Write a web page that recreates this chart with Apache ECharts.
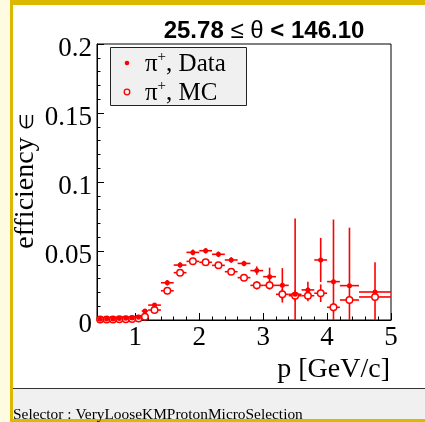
<!DOCTYPE html>
<html>
<head>
<meta charset="utf-8">
<script src="https://cdn.jsdelivr.net/npm/echarts@6/dist/echarts.min.js"></script>
<style>
  html, body { margin: 0; padding: 0; background: #ffffff; }
  #chart { width: 425px; height: 422px; }
</style>
</head>
<body>
<div id="chart"></div>
<script>
// Bin centres and half-widths in p [GeV/c]
const pCenter = [0.45, 0.55, 0.65, 0.75, 0.85, 0.95, 1.05, 1.15, 1.3, 1.5, 1.7, 1.9, 2.1, 2.3, 2.5, 2.7, 2.9, 3.1, 3.3, 3.5, 3.7, 3.9, 4.1, 4.35, 4.75];
const pHalfWidth = [0.05, 0.05, 0.05, 0.05, 0.05, 0.05, 0.05, 0.05, 0.1, 0.1, 0.1, 0.1, 0.1, 0.1, 0.1, 0.1, 0.1, 0.1, 0.1, 0.1, 0.1, 0.1, 0.1, 0.15, 0.25];

// pi+ efficiency, data
const effData = [0.0005, 0.0008, 0.0008, 0.001, 0.0012, 0.0015, 0.002, 0.0065, 0.0108, 0.027, 0.0398, 0.049, 0.0502, 0.0476, 0.0435, 0.041, 0.0358, 0.0314, 0.0251, 0.0186, 0.0218, 0.0435, 0.0278, 0.0249, 0.0203];
const errData = [0.0003, 0.0003, 0.0003, 0.0003, 0.0003, 0.0004, 0.0005, 0.001, 0.0015, 0.002, 0.002, 0.002, 0.002, 0.002, 0.002, 0.002, 0.003, 0.0065, 0.0125, 0.055, 0.006, 0.016, 0.045, 0.042, 0.0215];

// pi+ efficiency, MC
const effMC = [0.0003, 0.0004, 0.0004, 0.0005, 0.0006, 0.0008, 0.001, 0.0024, 0.0072, 0.0212, 0.0343, 0.0425, 0.0418, 0.0396, 0.035, 0.0307, 0.0251, 0.0251, 0.0186, 0.0176, 0.0176, 0.0194, 0.0092, 0.0145, 0.0167];
const errMC = [0.0002, 0.0002, 0.0002, 0.0002, 0.0002, 0.0003, 0.0003, 0.0006, 0.001, 0.0015, 0.0015, 0.0015, 0.0015, 0.0015, 0.0015, 0.0015, 0.003, 0.003, 0.004, 0.004, 0.004, 0.0064, 0.003, 0.003, 0.003];

// Axis ticks
const xMajorTicks = [1, 2, 3, 4, 5];
const yTickLabels = ['0', '0.05', '0.1', '0.15', '0.2'];

const RED = '#ff0000';
const SERIF = '"Liberation Serif", "Times New Roman", serif';
const SANS = '"Liberation Sans", Arial, sans-serif';

function rows(eff, err) {
  return pCenter.map((p, i) => [p, eff[i], pHalfWidth[i], err[i]]);
}

function errorBars(params, api) {
  const x = api.value(0), y = api.value(1), dx = api.value(2), dy = api.value(3);
  const lo = Math.max(0, y - dy), hi = y + dy;
  const l = api.coord([x - dx, y]), r = api.coord([x + dx, y]);
  const b = api.coord([x, lo]), t = api.coord([x, hi]);
  const st = { stroke: RED, lineWidth: 1.6 };
  return {
    type: 'group',
    children: [
      { type: 'line', shape: { x1: l[0], y1: l[1], x2: r[0], y2: r[1] }, style: st },
      { type: 'line', shape: { x1: b[0], y1: b[1], x2: t[0], y2: t[1] }, style: st }
    ]
  };
}

const chart = echarts.init(document.getElementById('chart'), null, { renderer: 'canvas' });

chart.setOption({
  animation: false,
  backgroundColor: '#ffffff',
  title: {
    text: '{b|25.78 }{s|≤ θ}{b| < 146.10}',
    left: 259, top: 14, textAlign: 'center',
    textStyle: {
      rich: {
        b: { fontFamily: SANS, fontWeight: 'bold', fontSize: 24, color: '#000' },
        s: { fontFamily: SANS, fontWeight: 'normal', fontSize: 24, color: '#000' }
      }
    }
  },
  grid: { left: 97, top: 44, right: 34, bottom: 102, show: true, borderColor: '#000', borderWidth: 1, backgroundColor: 'transparent', outerBoundsMode: 'none' },
  xAxis: [
    {
      type: 'value', min: 0.4, max: 5,
      axisLine: { show: true, lineStyle: { color: '#000', width: 1 } },
      axisTick: { show: true, inside: true, length: 7, customValues: xMajorTicks, lineStyle: { color: '#000' } },
      axisLabel: { show: true, customValues: xMajorTicks, margin: 4, fontFamily: SERIF, fontSize: 27, color: '#000' },
      splitLine: { show: false }
    },
    {
      type: 'value', min: 0.4, max: 5, interval: 0.2, position: 'bottom',
      axisLine: { show: false },
      axisTick: { show: true, inside: true, length: 3.5, lineStyle: { color: '#000' } },
      axisLabel: { show: false },
      splitLine: { show: false }
    }
  ],
  yAxis: {
    type: 'value', min: 0, max: 0.2, interval: 0.05,
    axisLine: { show: true, lineStyle: { color: '#000', width: 1 } },
    axisTick: { show: true, inside: true, length: 7, lineStyle: { color: '#000' } },
    minorTick: { show: true, splitNumber: 5, length: 3.5, lineStyle: { color: '#000' } },
    axisLabel: {
      margin: 5, color: '#000',
      formatter: (v) => '{v|' + yTickLabels[Math.round(v / 0.05)] + '}',
      rich: { v: { fontFamily: SERIF, fontSize: 27, color: '#000', padding: [9, 0, 0, 0] } }
    },
    splitLine: { show: false }
  },
  series: [
    { name: 'π+, Data err', type: 'custom', renderItem: errorBars, data: rows(effData, errData), clip: false, z: 2 },
    { name: 'π+, MC err', type: 'custom', renderItem: errorBars, data: rows(effMC, errMC), clip: false, z: 2 },
    {
      name: 'π+, MC', type: 'scatter', symbol: 'circle', symbolSize: 6.5,
      data: pCenter.map((p, i) => [p, effMC[i]]),
      itemStyle: { color: '#ffffff', borderColor: RED, borderWidth: 1.5, opacity: 1 }, z: 3
    },
    {
      name: 'π+, Data', type: 'scatter', symbol: 'circle', symbolSize: 5,
      data: pCenter.map((p, i) => [p, effData[i]]),
      itemStyle: { color: RED, opacity: 1 }, z: 4
    }
  ],
  graphic: [
    // outer canvas frame
    { type: 'rect', shape: { x: 0, y: 0, width: 10, height: 422 }, style: { fill: '#fffbe0' }, silent: true, z: 100 },
    { type: 'rect', shape: { x: 10, y: 0, width: 415, height: 5 }, style: { fill: '#dcb800' }, silent: true, z: 100 },
    { type: 'rect', shape: { x: 10, y: 0, width: 3, height: 422 }, style: { fill: '#dcb800' }, silent: true, z: 100 },
    // status bar
    { type: 'rect', shape: { x: 13, y: 388, width: 412, height: 31 }, style: { fill: '#f0f0f0' }, silent: true, z: 99 },
    { type: 'line', shape: { x1: 13, y1: 388.5, x2: 425, y2: 388.5 }, style: { stroke: '#333', lineWidth: 1 }, silent: true, z: 100 },
    { type: 'rect', shape: { x: 10, y: 419, width: 415, height: 3 }, style: { fill: '#dcb800' }, silent: true, z: 100 },
    {
      type: 'text', x: 13, y: 414.5, silent: true, z: 101,
      style: { text: 'Selector : VeryLooseKMProtonMicroSelection', fontFamily: SERIF, fontSize: 15.4, fill: '#000', verticalAlign: 'middle', align: 'left' }
    },
    // axis titles
    {
      type: 'text', x: 390, y: 370, silent: true, z: 50,
      style: { text: 'p [GeV/c]', fontFamily: SERIF, fontSize: 28, fill: '#000', align: 'right', verticalAlign: 'middle' }
    },
    {
      type: 'text', x: 26, y: 181, rotation: Math.PI / 2, silent: true, z: 50,
      style: {
        text: '{t|efficiency }{e|∈}', align: 'center', verticalAlign: 'middle',
        rich: {
          t: { fontFamily: SERIF, fontSize: 28, fill: '#000' },
          e: { fontFamily: SERIF, fontSize: 19, fill: '#000', padding: [5, 0, 0, 0] }
        }
      }
    },
    // legend box
    {
      type: 'group', z: 60, silent: true,
      children: [
        { type: 'rect', shape: { x: 110.5, y: 47.5, width: 136, height: 58 }, style: { fill: '#f0f0f0', stroke: '#222', lineWidth: 1 } },
        { type: 'circle', shape: { cx: 127, cy: 63, r: 2.3 }, style: { fill: RED } },
        { type: 'circle', shape: { cx: 127, cy: 92, r: 2.8 }, style: { fill: '#f0f0f0', stroke: RED, lineWidth: 1.3 } },
        {
          type: 'text', x: 145, y: 64,
          style: {
            text: '{t|π}{u|+}{t|, Data}', verticalAlign: 'middle', align: 'left',
            rich: { t: { fontFamily: SERIF, fontSize: 25, fill: '#000' }, u: { fontFamily: SERIF, fontSize: 15, fill: '#000', padding: [0, 0, 13, 0] } }
          }
        },
        {
          type: 'text', x: 145, y: 93,
          style: {
            text: '{t|π}{u|+}{t|, MC}', verticalAlign: 'middle', align: 'left',
            rich: { t: { fontFamily: SERIF, fontSize: 25, fill: '#000' }, u: { fontFamily: SERIF, fontSize: 15, fill: '#000', padding: [0, 0, 13, 0] } }
          }
        }
      ]
    }
  ]
});
</script>
</body>
</html>
